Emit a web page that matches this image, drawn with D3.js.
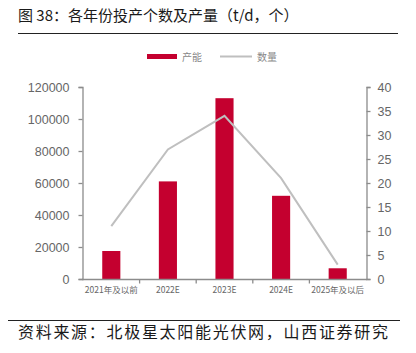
<!DOCTYPE html>
<html>
<head>
<meta charset="utf-8">
<script src="https://cdn.jsdelivr.net/npm/d3@7"></script>
<style>
  body { margin: 0; background: #fff; }
  svg { display: block; }
</style>
</head>
<body>
<svg id="chart"></svg>
<script>
// chart data
const categories = ['2021年及以前', '2022E', '2023E', '2024E', '2025年及以后'];
const capacity = [17500, 61000, 113000, 52000, 6700];   // 产能 t/d
const counts = [11, 27, 34, 21, 3];                      // 数量 个
const leftTicks = [0, 20000, 40000, 60000, 80000, 100000, 120000];
const rightTicks = [0, 5, 10, 15, 20, 25, 30, 35, 40];

const width = 416, height = 353;
const cjk = '"Noto Sans CJK SC", sans-serif';
const latin = '"Liberation Sans", Arial, sans-serif';

const svg = d3.select('#chart')
    .attr('width', width)
    .attr('height', height);

// Title + rules
svg.append('text')
    .attr('x', 18)
    .attr('y', 21)
    .attr('font-size', '15px')
    .attr('fill', '#1a1a1a')
    .style('font-family', cjk)
    .text('图 38：各年份投产个数及产量（t/d，个）');

svg.append('line')
    .attr('x1', 18).attr('x2', 398)
    .attr('y1', 33.5).attr('y2', 33.5)
    .attr('stroke', '#222').attr('stroke-width', 1);

svg.append('line')
    .attr('x1', 8).attr('x2', 400)
    .attr('y1', 320.5).attr('y2', 320.5)
    .attr('stroke', '#222').attr('stroke-width', 1);

svg.append('text')
    .attr('x', 18)
    .attr('y', 338)
    .attr('font-size', '16px')
    .attr('fill', '#1a1a1a')
    .attr('letter-spacing', '1.7px')
    .style('font-family', cjk)
    .text('资料来源：北极星太阳能光伏网，山西证券研究');

// Scales
const x = d3.scaleBand()
    .domain(categories)
    .range([83, 366])
    .paddingInner(0.68)
    .paddingOuter(0.34);

const xc = d3.scaleBand().domain(categories).range([83, 366]);

const yL = d3.scaleLinear().domain([0, 120000]).range([279, 87]);
const yR = d3.scaleLinear().domain([0, 40]).range([279, 87]);

const axisColor = '#8c8c8c';
const labelColor = '#666';

// Left axis
const gL = svg.append('g')
    .attr('transform', 'translate(82.5,0)')
    .call(d3.axisLeft(yL).tickValues(leftTicks).tickSize(4).tickPadding(9).tickFormat(d3.format('d')));

// Right axis
const gR = svg.append('g')
    .attr('transform', 'translate(366.5,0)')
    .call(d3.axisRight(yR).tickValues(rightTicks).tickSize(4).tickPadding(7));

[gL, gR].forEach(g => {
    g.select('.domain').attr('stroke', axisColor).attr('stroke-width', 1.3);
    g.selectAll('.tick line').attr('stroke', axisColor).attr('stroke-width', 1.3);
    g.selectAll('.tick text')
        .attr('fill', labelColor)
        .attr('font-size', '12.5px')
        .style('font-family', latin);
});

// Bars
svg.append('g')
    .selectAll('rect')
    .data(capacity)
    .join('rect')
    .attr('x', (d, i) => x(categories[i]))
    .attr('y', d => yL(d))
    .attr('width', x.bandwidth())
    .attr('height', d => yL(0) - yL(d))
    .attr('fill', '#c4002f');

// X axis
const gX = svg.append('g')
    .attr('transform', 'translate(0,279.5)');

gX.append('line')
    .attr('x1', 82).attr('x2', 367)
    .attr('stroke', axisColor).attr('stroke-width', 1.3);

gX.selectAll('line.tk')
    .data(categories.slice(1))
    .join('line')
    .attr('class', 'tk')
    .attr('x1', d => xc(d)).attr('x2', d => xc(d))
    .attr('y1', 0).attr('y2', 4)
    .attr('stroke', axisColor).attr('stroke-width', 1.3);

gX.selectAll('text')
    .data(categories)
    .join('text')
    .attr('x', d => xc(d) + xc.bandwidth() / 2)
    .attr('y', 13)
    .attr('text-anchor', 'middle')
    .attr('font-size', '8.5px')
    .attr('fill', labelColor)
    .style('font-family', cjk)
    .text(d => d);

// Line
const line = d3.line()
    .x((d, i) => xc(categories[i]) + xc.bandwidth() / 2)
    .y(d => yR(d));

svg.append('path')
    .datum(counts)
    .attr('d', line)
    .attr('fill', 'none')
    .attr('stroke', '#bfbfbf')
    .attr('stroke-width', 2);

// Legend
const legend = svg.append('g');
legend.append('rect')
    .attr('x', 147).attr('y', 54)
    .attr('width', 30).attr('height', 5)
    .attr('fill', '#c4002f');
legend.append('text')
    .attr('x', 182).attr('y', 61)
    .attr('font-size', '10px')
    .attr('fill', '#888')
    .style('font-family', cjk)
    .text('产能');
legend.append('line')
    .attr('x1', 220).attr('x2', 252)
    .attr('y1', 56.5).attr('y2', 56.5)
    .attr('stroke', '#bfbfbf').attr('stroke-width', 2);
legend.append('text')
    .attr('x', 257).attr('y', 61)
    .attr('font-size', '10px')
    .attr('fill', '#888')
    .style('font-family', cjk)
    .text('数量');
</script>
</body>
</html>
